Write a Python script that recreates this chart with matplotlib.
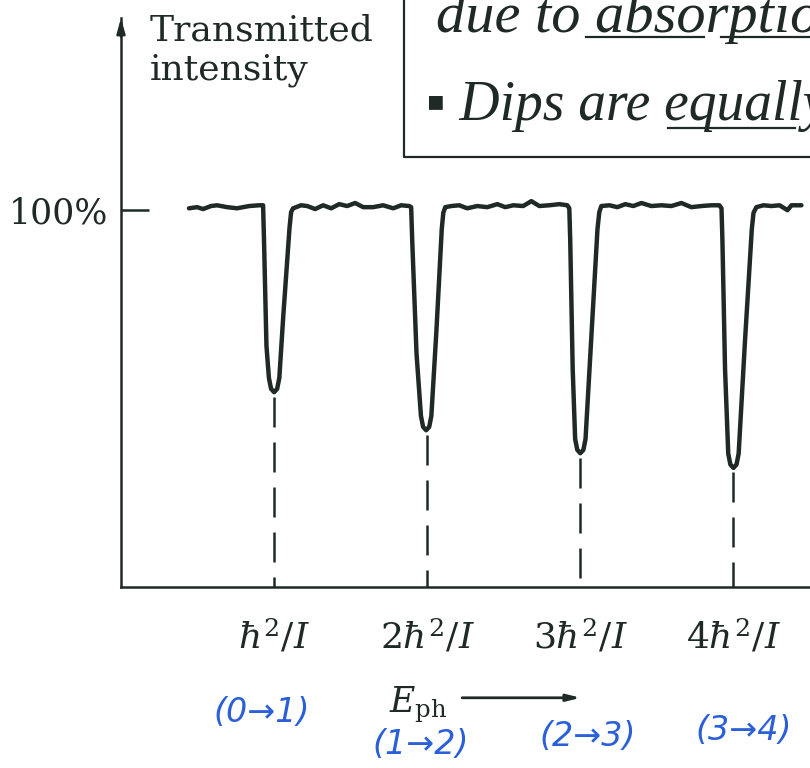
import matplotlib.pyplot as plt
import numpy as np

# trace: x in units of hbar^2/I, y in % transmitted
trace_x = [0.444, 0.497, 0.536, 0.588, 0.627, 0.693, 0.758, 0.837, 0.902, 0.928,
           0.934, 0.950, 0.966, 0.980, 1.000, 1.020, 1.034, 1.060, 1.100, 1.111, 1.124,
           1.176, 1.216, 1.268, 1.320, 1.373, 1.425, 1.477, 1.529, 1.582, 1.647,
           1.712, 1.778, 1.830, 1.882, 1.895,
           1.902, 1.930, 1.959, 1.973, 1.993, 2.013, 2.027, 2.060, 2.095, 2.105, 2.118,
           2.157, 2.209, 2.261, 2.327, 2.392, 2.458, 2.510, 2.562, 2.627, 2.680,
           2.732, 2.797, 2.863, 2.915, 2.928,
           2.934, 2.950, 2.966, 2.980, 3.000, 3.020, 3.034, 3.070, 3.112, 3.124, 3.137,
           3.190, 3.242, 3.294, 3.346, 3.399, 3.464, 3.529, 3.595, 3.660, 3.725,
           3.791, 3.856, 3.908, 3.922,
           3.928, 3.945, 3.966, 3.980, 4.000, 4.020, 4.034, 4.075, 4.120, 4.131, 4.150,
           4.196, 4.248, 4.301, 4.353, 4.379, 4.444]
trace_y = [100.5, 100.8, 100.3, 101.1, 101.3, 100.8, 100.5, 101.1, 101.3, 101.3,
           92.0, 64.0, 55.5, 52.6, 51.7, 52.6, 55.5, 72.0, 95.0, 99.5, 100.5,
           101.3, 101.1, 100.3, 101.3, 100.5, 101.6, 101.1, 101.9, 100.8, 100.8,
           101.3, 100.5, 101.3, 101.1, 100.8,
           92.0, 62.0, 45.4, 42.5, 41.6, 42.5, 45.4, 68.0, 95.0, 99.3, 100.8,
           101.1, 101.3, 100.5, 101.1, 100.8, 101.6, 100.8, 101.3, 101.1, 102.4,
           101.1, 101.3, 101.6, 101.3, 100.5,
           92.0, 58.0, 39.3, 36.4, 35.5, 36.4, 39.3, 65.0, 95.0, 99.5, 101.1,
           101.3, 100.8, 101.6, 101.1, 101.9, 101.1, 101.3, 101.1, 101.9, 100.8,
           101.1, 101.3, 101.3, 100.5,
           92.0, 58.0, 35.4, 32.5, 31.6, 32.5, 35.4, 65.0, 95.0, 99.3, 100.8,
           101.3, 101.1, 101.3, 100.0, 101.3, 101.3]

dip_centers = [1, 2, 3, 4]
dip_minima = [51.7, 41.6, 35.5, 31.6]
tick_labels = [r'$\hbar^2/I$', r'$2\hbar^2/I$', r'$3\hbar^2/I$', r'$4\hbar^2/I$']
transitions = ['(0→1)', '(1→2)', '(2→3)', '(3→4)']

ink = '#1f2a27'
blue = '#2a5fd8'

plt.rcParams['mathtext.fontset'] = 'dejavuserif'
plt.rcParams['font.family'] = ['DejaVu Serif']

fig = plt.figure(figsize=(8.1, 7.68), dpi=100)
ax = fig.add_axes([121 / 810, 181 / 768, 689 / 810, 569 / 768])
ax.set_xlim(0, 4.50)
ax.set_ylim(0, 151)

ax.plot(trace_x, trace_y, color=ink, lw=3.2, solid_joinstyle='round',
        solid_capstyle='round')

# dashed drop lines from each dip to the axis
for c, m in zip(dip_centers, dip_minima):
    ax.plot([c, c], [m - 1.2, 0], color=ink, lw=1.8, linestyle=(0, (12, 6)))

for side in ['top', 'right']:
    ax.spines[side].set_visible(False)
for side in ['left', 'bottom']:
    ax.spines[side].set_color(ink)
    ax.spines[side].set_linewidth(1.8)

# arrowhead on top of the y axis
ax.annotate('', xy=(0, 151), xytext=(0, 146),
            arrowprops=dict(arrowstyle='-|>,head_width=0.25,head_length=0.9',
                            color=ink, lw=1.8, shrinkA=0, shrinkB=0),
            annotation_clip=False)

ax.set_yticks([100])
ax.set_yticklabels(['100%'], fontsize=25, color=ink)
ax.tick_params(axis='y', direction='in', length=20, width=1.8, color=ink, pad=9)
ax.set_xticks(dip_centers)
ax.set_xticklabels(tick_labels, fontsize=26, color=ink)
ax.tick_params(axis='x', length=0, pad=22)

ax.text(0.19, 152.2, 'Transmitted\nintensity', fontsize=26, color=ink,
        va='top', ha='left', linespacing=1.2, clip_on=False)

# E_ph label with arrow
ax.text(1.94, -33.2, r'$E_{\rm ph}$', fontsize=25, color=ink, ha='center',
        va='baseline', clip_on=False)
ax.annotate('', xy=(3.02, -29.4), xytext=(2.21, -29.4),
            arrowprops=dict(arrowstyle='-|>,head_width=0.2,head_length=0.8',
                            color=ink, lw=2), annotation_clip=False)

# handwritten transition labels
trans_pos = [(0.92, -33.2), (1.96, -41.9), (3.05, -39.8), (4.07, -38.2)]
for (tx, ty), lab in zip(trans_pos, transitions):
    ax.text(tx, ty, lab, fontsize=24, color=blue, family='DejaVu Sans',
            style='italic', ha='center', va='center', clip_on=False)

# handwritten note box in the top right
ax.plot([1.85, 1.85, 4.6], [170, 114.1, 114.1], color=ink, lw=1.6, clip_on=False)
ax.text(2.06, 147.4, 'due to absorption', fontsize=42, family='Liberation Serif',
        style='italic', color=ink, va='baseline', clip_on=False)
ax.plot([3.04, 3.81], [146.0, 146.0], color=ink, lw=1.6, clip_on=False)
ax.plot([3.92, 4.6], [146.0, 146.0], color=ink, lw=1.6, clip_on=False)
ax.text(1.993, 123.9, '▪ Dips are equally', fontsize=40,
        family=['Liberation Serif', 'DejaVu Sans'],
        style='italic', color=ink, va='baseline', clip_on=False)
ax.plot([3.575, 4.4], [121.8, 121.8], color=ink, lw=1.6, clip_on=False)

fig.savefig('out.png', dpi=100)
